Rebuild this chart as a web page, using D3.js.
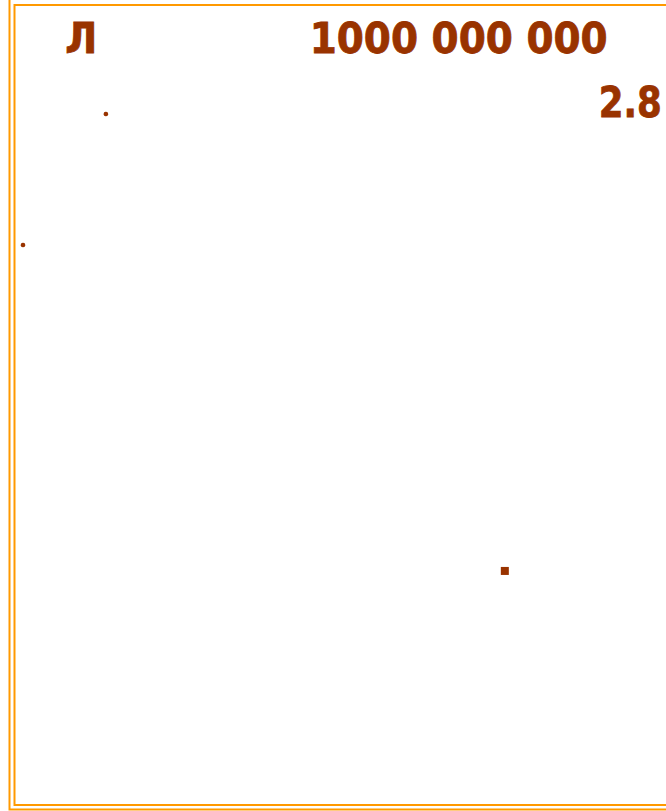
<!DOCTYPE html>
<html>
<head>
<meta charset="utf-8">
<script src="https://cdn.jsdelivr.net/npm/d3@7"></script>
<style>
  body { margin: 0; background: #fff; }
  text { font-family: "DejaVu Sans", Verdana, sans-serif; font-weight: bold; fill: #993300; stroke: #993300; stroke-width: 0.8px; }
</style>
</head>
<body>
<div id="chart"></div>
<script>
// labels on the slide, placed in a 0-100 grid
const labels = ["Л", "1000 000 000", "2.8"];
const labelX = [9.8, 46.5, 89.9];
const labelY = [6.5, 6.5, 14.4];
const labelW = [32, 298, 63];

// stray point marks
const dotX = [15.9, 3.45, 75.8];
const dotY = [14.05, 30.2, 70.4];
const dotSize = [4.5, 4.5, 8];

const width = 666, height = 811;

const svg = d3.select("#chart").append("svg")
    .attr("width", width)
    .attr("height", height);

svg.append("rect")
    .attr("width", width)
    .attr("height", height)
    .attr("fill", "#fff");

const x = d3.scaleLinear().domain([0, 100]).range([0, width]);
const y = d3.scaleLinear().domain([0, 100]).range([0, height]);

// double frame
const orange = "#ff9900";
svg.append("path")
    .attr("d", "M9.5,-5V809.5H700")
    .attr("fill", "none")
    .attr("stroke", orange)
    .attr("stroke-width", 2);
svg.append("rect")
    .attr("x", 14.5)
    .attr("y", 5)
    .attr("width", 700)
    .attr("height", 800)
    .attr("fill", "none")
    .attr("stroke", orange)
    .attr("stroke-width", 2);

svg.selectAll("text.lbl")
    .data(labels)
    .join("text")
    .attr("class", "lbl")
    .attr("x", (d, i) => x(labelX[i]))
    .attr("y", (d, i) => y(labelY[i]))
    .attr("textLength", (d, i) => labelW[i])
    .attr("lengthAdjust", "spacingAndGlyphs")
    .style("font-size", "42px")
    .text(d => d);

svg.selectAll("rect.dot")
    .data(dotX)
    .join("rect")
    .attr("class", "dot")
    .attr("x", (d, i) => x(d) - dotSize[i] / 2)
    .attr("y", (d, i) => y(dotY[i]) - dotSize[i] / 2)
    .attr("width", (d, i) => dotSize[i])
    .attr("height", (d, i) => dotSize[i])
    .attr("rx", (d, i) => dotSize[i] < 6 ? 2 : 0)
    .attr("fill", "#993300");
</script>
</body>
</html>
